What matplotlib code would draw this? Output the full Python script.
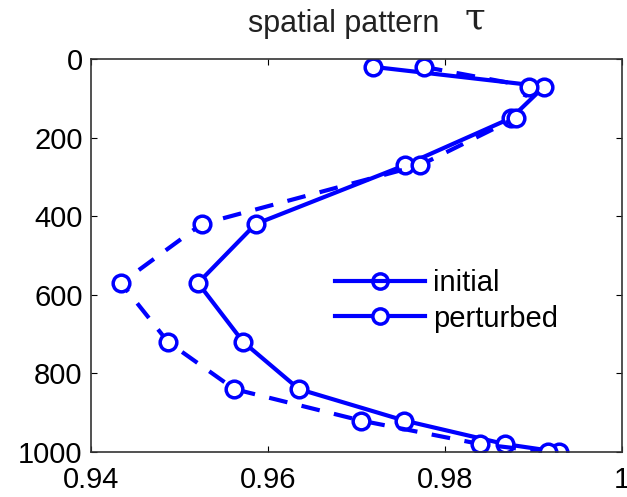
import matplotlib.pyplot as plt
from matplotlib.lines import Line2D
import numpy as np

plt.rcParams['font.family'] = ['Liberation Sans', 'DejaVu Sans']

# depth levels and tau values for both runs
depth = [20, 70, 150, 270, 420, 570, 720, 840, 920, 980, 1000]
initial = [0.9719, 0.9912, 0.9875, 0.9755, 0.9586, 0.9521, 0.9572, 0.9635, 0.9754, 0.9868, 0.9929]
perturbed = [0.9776, 0.9895, 0.9880, 0.9772, 0.9525, 0.9434, 0.9487, 0.9562, 0.9705, 0.9840, 0.9916]

xticks = [0.94, 0.96, 0.98, 1.0]
xticklabels = ['0.94', '0.96', '0.98', '1']
yticks = [0, 200, 400, 600, 800, 1000]

blue = (0, 0, 1)
W, H = 627, 497

fig = plt.figure(figsize=(W / 100, H / 100), dpi=100)
# axes box in pixels: x 91..622, y 59..452
ax = fig.add_axes([91 / W, 1 - 452 / H, 531 / W, 393 / H])

ax.plot(initial, depth, '-', color=blue, lw=3, marker='o', ms=12,
        mfc='white', mec=blue, mew=2.5)
ax.plot(perturbed, depth, '--', color=blue, lw=3, marker='o', ms=12,
        mfc='white', mec=blue, mew=2.5, dashes=(4.5, 3.5))

ax.set_xlim(0.94, 1.0)
ax.set_ylim(1000, 0)
ax.set_xticks(xticks)
ax.set_xticklabels(xticklabels)
ax.set_yticks(yticks)
ax.tick_params(direction='in', top=True, right=True, labelsize=21, length=4, width=0.8)
ax.tick_params(axis='x', pad=10)
ax.tick_params(axis='y', pad=6)
for s in ax.spines.values():
    s.set_color('#333333')
    s.set_linewidth(1.2)

# title: sans words, serif tau
fig.text(248 / W, 1 - 32 / H, 'spatial pattern', fontsize=22, ha='left', va='baseline', color='#222222')
fig.text(465 / W, 1 - 28 / H, '\u03c4', fontsize=27, ha='left', va='baseline',
         family=['DejaVu Serif'], color='#222222')

# both legend entries drawn with solid lines
handles = [
    Line2D([], [], color=blue, lw=3, marker='o', ms=11, mfc='none', mec=blue, mew=2.5),
    Line2D([], [], color=blue, lw=3, marker='o', ms=11, mfc='white', mec=blue, mew=2.5),
]
ax.legend(handles, ['initial', 'perturbed'], loc='upper left', bbox_to_anchor=(0.4595, 0.465),
          frameon=False, fontsize=21, handlelength=3.1, handletextpad=0.25, labelspacing=0.25,
          borderpad=0, borderaxespad=0)

fig.savefig('out.png', dpi=100)
